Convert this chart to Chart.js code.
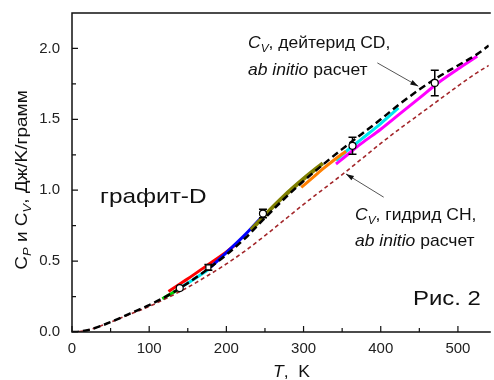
<!DOCTYPE html>
<html><head><meta charset="utf-8">
<script src="https://cdn.jsdelivr.net/npm/chart.js@4.4.1/dist/chart.umd.min.js"></script>
<style>html,body{margin:0;padding:0;background:#fff}#wrap{width:494px;height:380px}</style>
</head><body><div id="wrap"><canvas id="c" width="494" height="380"></canvas></div>
<script>
// ---------- data ----------
const T_calc = [0,10,25,50,75,100,125,150,175,200,225,250,275,300,325,350,375,400,425,450,475,500,525,540];
const Cv_CD  = [0,0.003,0.02,0.07,0.13,0.19,0.26,0.345,0.44,0.545,0.665,0.805,0.94,1.065,1.18,1.29,1.395,1.50,1.61,1.71,1.80,1.88,1.96,2.02];
const Cv_CH  = [0,0.003,0.02,0.07,0.125,0.18,0.245,0.315,0.395,0.48,0.575,0.68,0.79,0.90,1.005,1.11,1.22,1.33,1.435,1.535,1.635,1.735,1.83,1.88];

const T_green  = [117,125,133,142];          const C_green  = [0.235,0.26,0.285,0.315];
const T_red    = [125,150,175,200,214];      const C_red    = [0.285,0.375,0.47,0.565,0.625];
const T_cyan1  = [142,150,160,176];          const C_cyan1  = [0.32,0.345,0.38,0.437];
const T_blue   = [180,200,225,244];          const C_blue   = [0.46,0.56,0.69,0.80];
const T_olive  = [232,250,275,300,325];      const C_olive  = [0.72,0.825,0.96,1.08,1.19];
const T_orange = [297,310,325,340,355];      const C_orange = [1.02,1.08,1.15,1.215,1.275];
const T_cyan2  = [342,350,375,400,423];      const C_cyan2  = [1.21,1.25,1.36,1.47,1.58];
const T_magenta= [342,350,375,400,425,450,475,500,525]; const C_magenta = [1.185,1.22,1.33,1.43,1.54,1.65,1.76,1.855,1.945];

const T_pts   = [139.6,176.7,247.4,363.4,470];
const C_pts   = [0.31,0.456,0.835,1.313,1.757];
const C_err   = [0,0.02,0.03,0.06,0.09];
const ptStyle = ['circle','rect','circle','circle','circle'];

const xTicks = [0,100,200,300,400,500];
const yTicks = [0,0.5,1.0,1.5,2.0];

// ---------- helpers ----------
const FONT = '"Liberation Sans", Arial, sans-serif';
const pts = (xs, ys) => xs.map((x,i)=>({x, y: ys[i]}));

function richWidth(ctx, parts, size){
  let w=0;
  for(const p of parts){
    const fs = p.sub ? size*0.68 : size;
    ctx.font = (p.i?'italic ':'') + fs + 'px ' + FONT;
    w += ctx.measureText(p.t).width;
  }
  return w;
}
function drawRich(ctx, parts, x, y, size, sx){
  ctx.save();
  ctx.translate(x,y);
  ctx.scale(sx,1);
  ctx.fillStyle = '#111';
  ctx.textBaseline = 'alphabetic';
  ctx.textAlign = 'left';
  let cx=0;
  for(const p of parts){
    const fs = p.sub ? size*0.68 : size;
    ctx.font = (p.i?'italic ':'') + fs + 'px ' + FONT;
    ctx.fillText(p.t, cx, p.sub ? size*0.25 : 0);
    cx += ctx.measureText(p.t).width;
  }
  ctx.restore();
}

const labels = [
  {parts:[{t:'C',i:true},{t:'V',i:true,sub:true},{t:', дейтерид CD,'}], x:248, y:48, size:17, sx:1.03},
  {parts:[{t:'ab initio',i:true},{t:' расчет'}], x:248, y:75, size:17, sx:1.03},
  {parts:[{t:'C',i:true},{t:'V',i:true,sub:true},{t:', гидрид CH,'}], x:355, y:220, size:17, sx:1.03},
  {parts:[{t:'ab initio',i:true},{t:' расчет'}], x:355, y:246, size:17, sx:1.03},
  {parts:[{t:'графит-D'}], x:100, y:203, size:21, sx:1.16},
  {parts:[{t:'Рис. 2'}], x:413, y:305, size:21, sx:1.14},
  {parts:[{t:'T',i:true},{t:',  K'}], x:273, y:377, size:17, sx:1.03},
];
const arrows = [
  {from:[395.6,1.898], to:[448.6,1.734]},
  {from:[403.8,0.951], to:[354.9,1.115]},
];
const yTitle = [{t:'C'},{t:'P',i:true,sub:true},{t:' и '},{t:'C'},{t:'V',i:true,sub:true},{t:', Дж/K/грамм'}];

const deco = {
  id:'deco',
  beforeDatasetDraw(chart, args){
    if(args.meta.label !== 'points') return;
    const {ctx, scales:{x,y}} = chart;
    ctx.save();
    ctx.strokeStyle='#000'; ctx.lineWidth=1.5;
    T_pts.forEach((t,i)=>{
      if(!C_err[i]) return;
      const px=x.getPixelForValue(t), y1=y.getPixelForValue(C_pts[i]-C_err[i]), y2=y.getPixelForValue(C_pts[i]+C_err[i]);
      ctx.beginPath();
      ctx.moveTo(px,y1); ctx.lineTo(px,y2);
      ctx.moveTo(px-4,y1); ctx.lineTo(px+4,y1);
      ctx.moveTo(px-4,y2); ctx.lineTo(px+4,y2);
      ctx.stroke();
    });
    ctx.restore();
  },
  afterDraw(chart){
    const {ctx, chartArea:a, scales:{x,y}} = chart;
    ctx.save();
    ctx.strokeStyle='#111'; ctx.lineWidth=1.5;
    ctx.beginPath();
    ctx.moveTo(a.right+2,a.top); ctx.lineTo(a.left,a.top); ctx.lineTo(a.left,a.bottom); ctx.lineTo(a.right+2,a.bottom);
    ctx.stroke();
    ctx.lineWidth=1.2;
    ctx.beginPath();
    for(let v=0; v<=540; v+=50){
      const px=x.getPixelForValue(v), L = (v%100===0)?6:4;
      ctx.moveTo(px,a.bottom); ctx.lineTo(px,a.bottom-L);
    }
    for(let k=0; k<=8; k++){
      const v=k*0.25, py=y.getPixelForValue(v), L=(k%2===0)?6:4;
      ctx.moveTo(a.left,py); ctx.lineTo(a.left+L,py);
    }
    ctx.stroke();
    // arrows
    ctx.strokeStyle='#555'; ctx.fillStyle='#111'; ctx.lineWidth=1;
    for(const ar of arrows){
      const x1=x.getPixelForValue(ar.from[0]), y1=y.getPixelForValue(ar.from[1]);
      const x2=x.getPixelForValue(ar.to[0]), y2=y.getPixelForValue(ar.to[1]);
      const ang=Math.atan2(y2-y1,x2-x1);
      ctx.beginPath(); ctx.moveTo(x1,y1); ctx.lineTo(x2,y2); ctx.stroke();
      ctx.beginPath();
      ctx.moveTo(x2,y2);
      ctx.lineTo(x2-8*Math.cos(ang)+2.5*Math.sin(ang), y2-8*Math.sin(ang)-2.5*Math.cos(ang));
      ctx.lineTo(x2-8*Math.cos(ang)-2.5*Math.sin(ang), y2-8*Math.sin(ang)+2.5*Math.cos(ang));
      ctx.closePath(); ctx.fill();
    }
    for(const l of labels) drawRich(ctx,l.parts,l.x,l.y,l.size,l.sx);
    // y title
    const ys=19, w=richWidth(ctx,yTitle,ys);
    ctx.save();
    ctx.translate(27,180);
    ctx.rotate(-Math.PI/2);
    ctx.scale(1,0.85);
    drawRich(ctx,yTitle,-w/2,0,ys,1);
    ctx.restore();
    ctx.restore();
  }
};

const line = (label, xs, ys, color, width, dash, order) => ({
  label, data: pts(xs,ys), showLine:true, borderColor:color, backgroundColor:color,
  borderWidth:width, borderDash:dash||[], pointRadius:0, cubicInterpolationMode:'monotone', order
});

new Chart(document.getElementById('c'), {
  type:'scatter',
  data:{datasets:[
    {label:'points', data:pts(T_pts,C_pts), pointStyle:ptStyle, pointRadius:3.5, pointBackgroundColor:'#fff', pointBorderColor:'#000', pointBorderWidth:1.2, showLine:false, order:0},
    line('Cv CD', T_calc, Cv_CD, '#000', 2.5, [7,4], 1),
    line('Cv CH', T_calc, Cv_CH, '#a3262a', 1.6, [4,3], 2),
    line('orange', T_orange, C_orange, '#ff8000', 3, null, 3),
    line('olive', T_olive, C_olive, '#808000', 4, null, 4),
    line('cyan2', T_cyan2, C_cyan2, '#00e8f0', 3, null, 5),
    line('magenta', T_magenta, C_magenta, '#ff00ff', 3, null, 6),
    line('blue', T_blue, C_blue, '#0000ff', 3, null, 7),
    line('red', T_red, C_red, '#ff0000', 3, null, 8),
    line('cyan1', T_cyan1, C_cyan1, '#00e8f0', 3, null, 9),
    line('green', T_green, C_green, '#00d000', 3, null, 10),
  ]},
  options:{
    responsive:false, animation:false, devicePixelRatio:1,
    layout:{padding:{top:11,right:0,left:0,bottom:0}},
    plugins:{legend:{display:false}, tooltip:{enabled:false}},
    scales:{
      x:{type:'linear', min:0, max:540, grid:{display:false}, border:{display:false},
         ticks:{stepSize:100, color:'#222', padding:0, maxRotation:0, font:{family:FONT,size:15}},
         afterBuildTicks:s=>{s.ticks = xTicks.map(v=>({value:v}));},
         afterFit:s=>{s.height=48;}},
      y:{type:'linear', min:0, max:2.25, grid:{display:false}, border:{display:false},
         ticks:{stepSize:0.5, color:'#222', padding:4, font:{family:FONT,size:15}, callback:v=>v.toFixed(1)},
         afterBuildTicks:s=>{s.ticks = yTicks.map(v=>({value:v}));},
         afterFit:s=>{s.width=72;}}
    }
  },
  plugins:[deco]
});
</script></body></html>
